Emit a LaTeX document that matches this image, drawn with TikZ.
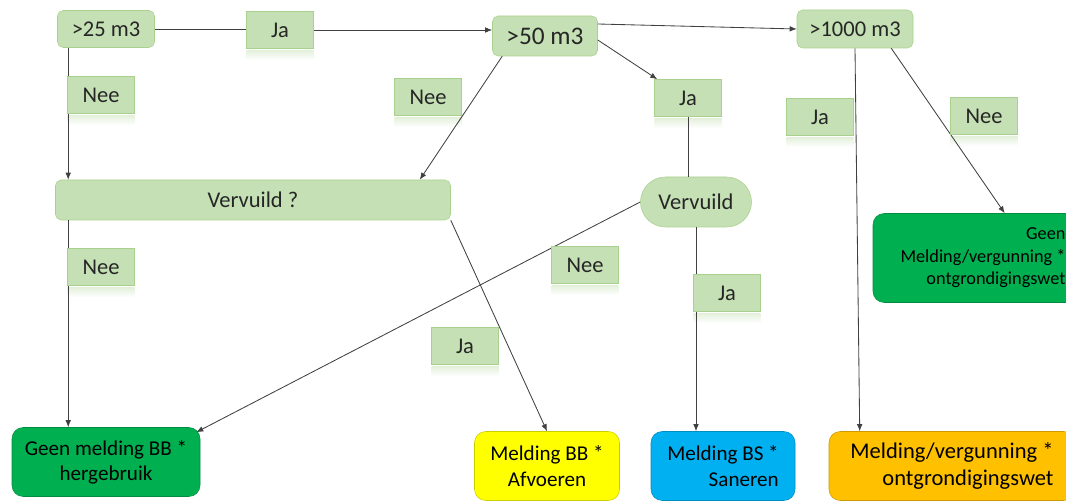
\documentclass[tikz,border=0pt]{standalone}
\usepackage{fontspec}
\setmainfont{Carlito}
\usetikzlibrary{arrows.meta, positioning, shapes.misc}
\definecolor{Light_Green}{HTML}{C5E0B4}
\definecolor{Light_Green_Edge}{HTML}{A9D18E}
\definecolor{Dark_Green}{HTML}{00B050}
\definecolor{Bright_Yellow}{HTML}{FFFF00}
\definecolor{Sky_Blue}{HTML}{00B0F0}
\definecolor{Amber}{HTML}{FFC000}
\definecolor{Line_Gray}{HTML}{404040}
\definecolor{Text_Gray}{HTML}{262626}
\newdimen\pu
\pu=0.025cm

\begin{document}
\begin{tikzpicture}[x=0.025cm, y=-0.025cm,
    font=\fontsize{16}{19}\selectfont, text=Text_Gray,
    question/.style={draw=Light_Green_Edge, fill=Light_Green, rounded corners=4pt, inner sep=0pt},
    answer/.style={draw=Light_Green_Edge, fill=Light_Green, minimum width=67\pu, minimum height=37\pu, inner sep=0pt, font=\fontsize{16}{19}\selectfont},
    outcome/.style={rounded corners=8pt, inner sep=0pt, minimum height=69\pu, font=\fontsize{15}{18}\selectfont, text=black},
    conn/.style={draw=Line_Gray, line width=0.6pt},
    arr/.style={conn, -{Latex[length=5pt, width=4pt]}}]
    \useasboundingbox (0,0) rectangle (1066,503);

    % faint reflection under each answer label (drawn first, lines go over it)
    \foreach \x/\y in {280/30, 688/98, 101/95, 428/97, 820/117, 984/116,
                       101/267, 585/265, 727/293, 465/346} {
        \shade[top color=Light_Green!45, bottom color=white] (\x-33.5,\y+21) rectangle (\x+33.5,\y+30);
    }

    % Questions (light green boxes)
    \node[question, minimum width=97\pu, minimum height=37\pu] (n25) at (106,29) {>25 m3};
    \node[answer] (ja1) at (280,30) {Ja};
    \node[question, minimum width=105\pu, minimum height=40\pu, font=\fontsize{18}{21}\selectfont] (n50) at (545,36) {>50 m3};
    \node[question, minimum width=116\pu, minimum height=38\pu] (n1000) at (855,29) {>1000 m3};
    \node[answer] (ja2) at (688,98) {Ja};
    \node[question, minimum width=395\pu, minimum height=40\pu] (vv) at (253,200) {Vervuild ?};
    \node[draw=Light_Green_Edge, fill=Light_Green, rounded rectangle, minimum width=111\pu, minimum height=50\pu, inner sep=0pt] (pill) at (696,202) {Vervuild};

    % Outcomes
    \node[outcome, fill=Dark_Green, draw=Dark_Green!80!black, minimum width=188\pu, align=center] (gbb) at (106,462) {Geen melding BB *\\hergebruik};
    \node[outcome, fill=Bright_Yellow, draw=Bright_Yellow!80!black, minimum width=145\pu, align=center] (mbb) at (547,466) {Melding BB *\\Afvoeren};
    \node[outcome, fill=Sky_Blue, draw=Sky_Blue!80!black, minimum width=144\pu, align=right] (mbs) at (723,466) {Melding BS *\\Saneren};
    \node[outcome, fill=Amber, draw=Amber!80!black, minimum width=246\pu, align=right, font=\fontsize{16}{19}\selectfont] (mvg) at (952,466) {Melding/vergunning *\\ontgrondigingswet};
    \node[outcome, fill=Dark_Green, draw=Dark_Green!80!black, minimum width=220\pu, minimum height=89\pu, align=right, font=\fontsize{13}{16}\selectfont] (gmv) at (983,258) {Geen\\Melding/vergunning *\\ontgrondigingswet};

    % Connectors
    \draw[conn] (n25.east) -- (n25.east -| ja1.west);
    \draw[arr] (ja1.east) -- (ja1.east -| n50.west);
    \draw[arr] ([xshift=11\pu]n25.south west) -- ([xshift=13\pu]vv.north west);
    \draw[arr] ([xshift=13\pu]vv.south west) -- ([xshift=13\pu]vv.south west |- gbb.north);
    \draw[arr] ([xshift=10\pu]n50.south west) -- ([xshift=-31\pu]vv.north east);
    \draw[arr] ([yshift=12\pu]n50.east) -- (n1000.west);
    \draw[arr] ([yshift=-4\pu]n50.east) -- ([xshift=3\pu]ja2.north west);
    \draw[conn] (ja2.south) -- (ja2.south |- pill.north);
    \draw[arr] (pill.south) -- (pill.south |- mbs.north);
    \draw[arr] (pill.west) -- ([xshift=-4\pu, yshift=-5\pu]gbb.north east);
    \draw[arr] (vv.south east) -- (mbb.north);
    \draw[arr] (n1000.south) -- ([xshift=31\pu]mvg.north west);
    \draw[arr] ([xshift=-22\pu]n1000.south east) -- ([xshift=132\pu]gmv.north west);

    % Answer labels on and beside the connectors
    \foreach \x/\y/\t/\n in {101/95/Nee/nee1, 428/97/Nee/nee2, 820/117/Ja/ja3,
                             984/116/Nee/nee3, 101/267/Nee/nee4, 585/265/Nee/nee5,
                             727/293/Ja/ja4, 465/346/Ja/ja5} {
        \node[answer] (\n) at (\x,\y) {\t};
    }
\end{tikzpicture}
\end{document}
